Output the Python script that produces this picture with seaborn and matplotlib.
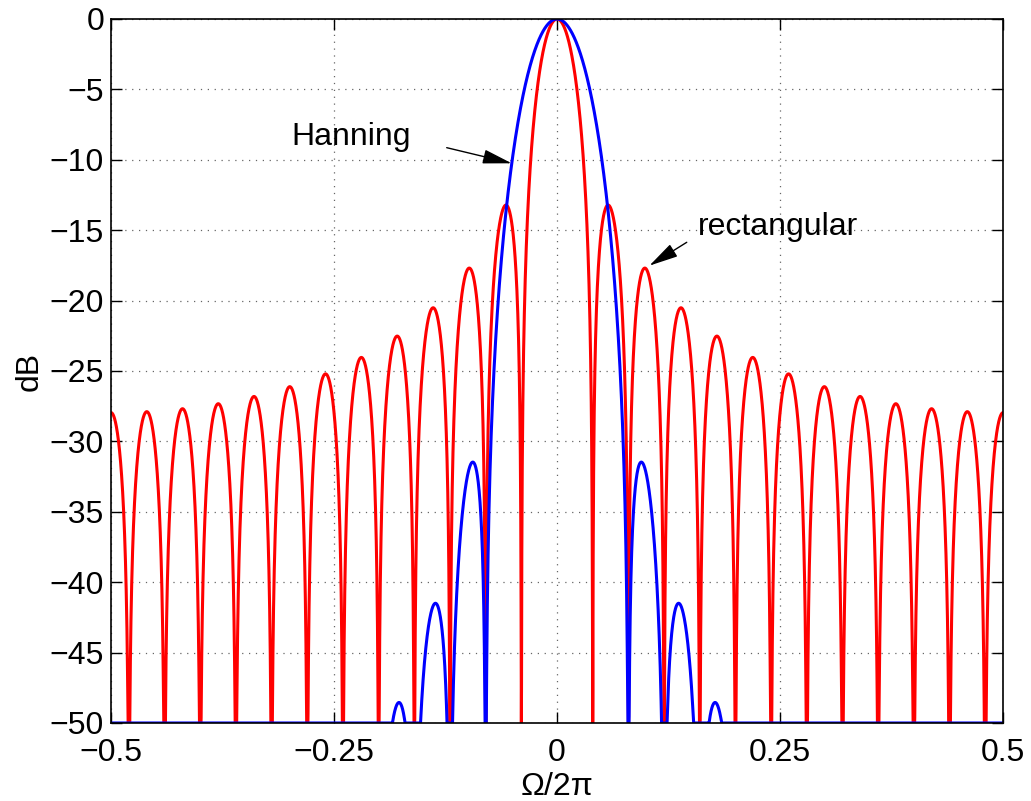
import numpy as np
import pandas as pd
import matplotlib
matplotlib.use("Agg")
import matplotlib.pyplot as plt
import seaborn as sns

# Window definitions (length-25 windows)
window_length = 25
rect_window = np.ones(window_length)
hann_window = 0.5 * (1 - np.cos(2 * np.pi * np.arange(window_length) / window_length))

floor_db = -50
x_ticks = [-0.5, -0.25, 0, 0.25, 0.5]
x_tick_labels = ["\u22120.5", "\u22120.25", "0", "0.25", "0.5"]
y_ticks = list(range(-50, 1, 5))
y_tick_labels = [("\u2212" + str(-v)) if v < 0 else "0" for v in y_ticks]

# Normalised frequency grid and magnitude spectra (DTFT of each window)
freq = np.linspace(-0.5, 0.5, 6001)


def spectrum_db(w):
    n = np.arange(len(w))
    W = np.abs(np.exp(-2j * np.pi * np.outer(freq, n)) @ w)
    db = 20 * np.log10(np.maximum(W / w.sum(), 1e-12))
    return np.maximum(db, floor_db)


df = pd.concat([
    pd.DataFrame({"f": freq, "dB": spectrum_db(rect_window), "window": "rectangular"}),
    pd.DataFrame({"f": freq, "dB": spectrum_db(hann_window), "window": "Hanning"}),
])

sns.set_style("white")
plt.rcParams["font.family"] = ["Liberation Sans", "DejaVu Sans"]
plt.rcParams["text.color"] = "black"
plt.rcParams["axes.labelcolor"] = "black"

fig = plt.figure(figsize=(10.31, 8.01), dpi=100)
ax = fig.add_axes([0.1077, 0.0974, 0.8652, 0.8789])

sns.lineplot(data=df, x="f", y="dB", hue="window", sort=False,
             palette={"rectangular": "#ff0000", "Hanning": "#0000ff"},
             hue_order=["rectangular", "Hanning"], linewidth=2.2,
             legend=False, ax=ax, estimator=None)

ax.set_xlim(-0.5, 0.5)
ax.set_ylim(-50, 0)
ax.set_xticks(x_ticks)
ax.set_xticklabels(x_tick_labels)
ax.set_yticks(y_ticks)
ax.set_yticklabels(y_tick_labels)
ax.tick_params(direction="in", length=8, width=1, labelsize=23, colors="black",
               top=True, right=True, bottom=True, left=True, pad=5)
ax.tick_params(axis="x", pad=11)
ax.grid(True, color="black", linestyle=(0, (1, 4.5)), linewidth=0.9, alpha=0.6)
for s in ax.spines.values():
    s.set_visible(True)
    s.set_color("black")
    s.set_linewidth(1.2)

ax.set_xlabel("\u03a9/2\u03c0", fontsize=23, labelpad=3, color="black")
ax.set_ylabel("dB", fontsize=23, labelpad=4, color="black")

arrow = dict(arrowstyle="-|>,head_length=0.9,head_width=0.22", color="black",
             lw=1.0, shrinkA=0, shrinkB=0, mutation_scale=20)
ax.text(-0.298, -8.38, "Hanning", fontsize=23, va="center", ha="left", color="black")
ax.text(0.158, -14.77, "rectangular", fontsize=23, va="center", ha="left", color="black")
ax.annotate("", xy=(-0.0508, -10.25), xytext=(-0.1237, -9.14), arrowprops=arrow)
ax.annotate("", xy=(0.1035, -17.52), xytext=(0.1454, -15.86), arrowprops=arrow)

fig.savefig("out.png", dpi=100)
